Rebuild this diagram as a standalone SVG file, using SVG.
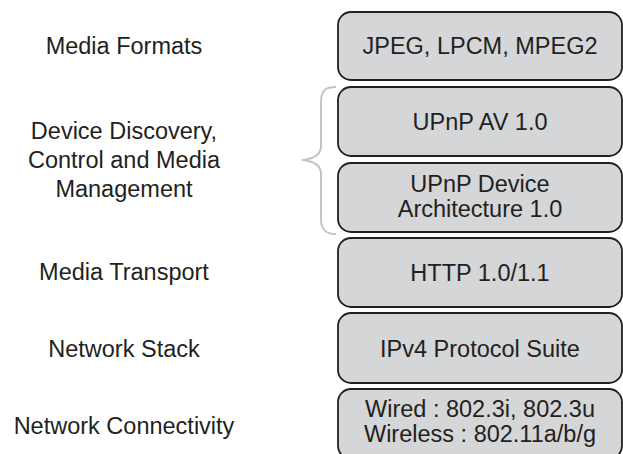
<svg xmlns="http://www.w3.org/2000/svg" width="623" height="454" viewBox="0 0 623 454">
<style>
.box{fill:#d5d6d8;stroke:#231f20;stroke-width:1.8}
.t{font-family:"Liberation Sans",Arial,sans-serif;font-size:23.5px;fill:#231f20;text-anchor:middle}
.brace{fill:none;stroke:#c4c4c4;stroke-width:2}
</style>
<rect width="623" height="454" fill="#ffffff"/>
<g id="connectors">
<path class="brace" d="M336,87 C326,87 321,90 321,102 L321,146 C321,155 314,159 302,160 C314,161 321,165 321,174 L321,219 C321,230 326,234 336,234"/>
</g>
<g id="label-media-formats"><text class="t" x="124" y="54">Media Formats</text></g>
<g id="label-device-discovery"><text class="t" x="124" y="139">Device Discovery,</text><text class="t" x="124" y="168">Control and Media</text><text class="t" x="124" y="197">Management</text></g>
<g id="label-media-transport"><text class="t" x="124" y="280">Media Transport</text></g>
<g id="label-network-stack"><text class="t" x="124" y="357">Network Stack</text></g>
<g id="label-network-connectivity"><text class="t" x="124" y="434">Network Connectivity</text></g>
<g id="box-media-formats"><rect class="box" x="338" y="12" width="284" height="68" rx="13"/><text class="t" x="480" y="54">JPEG, LPCM, MPEG2</text></g>
<g id="box-upnp-av"><rect class="box" x="338" y="87" width="284" height="69" rx="13"/><text class="t" x="480" y="130">UPnP AV 1.0</text></g>
<g id="box-upnp-device"><rect class="box" x="338" y="163" width="284" height="69" rx="13"/><text class="t" x="480" y="192">UPnP Device</text><text class="t" x="480" y="217">Architecture 1.0</text></g>
<g id="box-http"><rect class="box" x="338" y="238" width="284" height="69" rx="13"/><text class="t" x="480" y="281">HTTP 1.0/1.1</text></g>
<g id="box-ipv4"><rect class="box" x="338" y="313" width="284" height="70" rx="13"/><text class="t" x="480" y="357">IPv4 Protocol Suite</text></g>
<g id="box-connectivity"><rect class="box" x="338" y="389" width="284" height="70" rx="13"/><text class="t" x="480" y="417">Wired : 802.3i, 802.3u</text><text class="t" x="480" y="442">Wireless : 802.11a/b/g</text></g>
</svg>
